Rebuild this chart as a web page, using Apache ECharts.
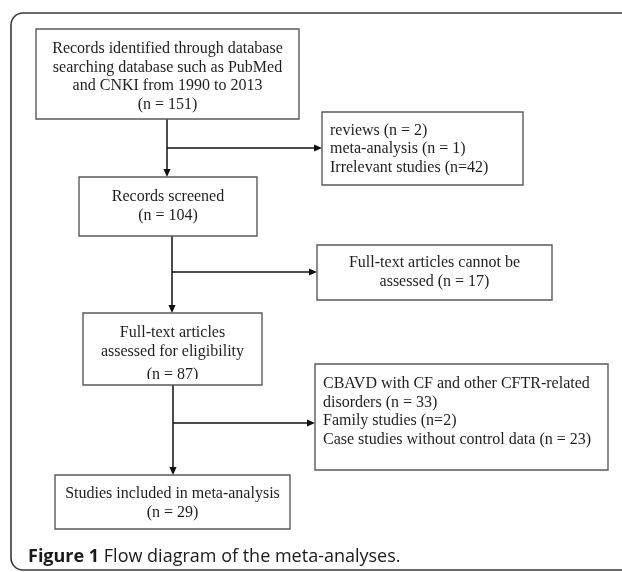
<!DOCTYPE html>
<html><head><meta charset="utf-8">
<script src="https://cdn.jsdelivr.net/npm/echarts@6/dist/echarts.min.js"></script>
<style>html,body{margin:0;padding:0;background:#fff}#c{width:622px;height:572px}</style>
</head><body><div id="c"></div>
<script>
// ---- data ----
const stageLabels = [
  "Records identified through database\nsearching database such as PubMed\nand CNKI from 1990 to 2013",
  "Records screened",
  "Full-text articles\nassessed for eligibility",
  "Studies included in meta-analysis"
];
const stageCounts = [151, 104, 87, 29];
const exclusionLabels = [
  ["reviews", "meta-analysis", "Irrelevant studies"],
  ["Full-text articles cannot be\nassessed"],
  ["CBAVD with CF and other CFTR-related\ndisorders", "Family studies", "Case studies without control data"]
];
const exclusionCounts = [[2, 1, 42], [17], [33, 2, 23]];
const exclusionCompact = [[false, false, true], [false], [false, true, false]];
const captionBold = "Figure 1";
const captionText = "Flow diagram of the meta-analyses.";

// ---- layout (pixels) ----
const LH = 18.5;
const stageBoxes = [
  {x: 36, y: 29, w: 263, h: 90, y0: 49},
  {x: 79, y: 177, w: 178, h: 59, y0: 197},
  {x: 83, y: 313, w: 179, h: 72, y0: 333},
  {x: 55, y: 475, w: 235, h: 54, y0: 494}
];
const exclBoxes = [
  {x: 322, y: 112, w: 201, h: 73, align: 'left', tx: 330, y0: 130.5},
  {x: 317, y: 245, w: 235, h: 55, align: 'center', y0: 263},
  {x: 315, y: 364, w: 293, h: 106, align: 'left', tx: 323, y0: 384}
];
const spines = [
  {x: 167, branchY: 148},
  {x: 172, branchY: 272},
  {x: 173, branchY: 423}
];

const FONT = '16px "Liberation Serif", "Times New Roman", serif';
const TXT = '#1e1e1e';
const BOX = '#5a5a5a';
const ARR = '#111';

function fmt(n, compact) { return compact ? '(n=' + n + ')' : '(n = ' + n + ')'; }

const els = [];
function text(str, x, y, align) {
  els.push({type: 'text', x: x, y: y, z: 5,
    style: {text: str, font: FONT, fill: TXT, align: align, verticalAlign: 'middle',
            textAlign: align, textVerticalAlign: 'middle'}});
}
function rect(b) {
  els.push({type: 'rect', z: 7, shape: {x: b.x, y: b.y, width: b.w, height: b.h},
    style: {fill: 'none', stroke: BOX, lineWidth: 1.4}});
}
function arrow(x1, y1, x2, y2) {
  const L = 8, W = 3.6;
  const dx = x2 - x1, dy = y2 - y1, len = Math.hypot(dx, dy);
  const ux = dx / len, uy = dy / len;
  const bx = x2 - ux * L, by = y2 - uy * L;
  els.push({type: 'line', z: 4, shape: {x1: x1, y1: y1, x2: bx, y2: by},
    style: {stroke: ARR, lineWidth: 1.5}});
  els.push({type: 'polygon', z: 4, shape: {points: [[x2, y2], [bx - uy * W, by + ux * W], [bx + uy * W, by - ux * W]]},
    style: {fill: ARR}});
}

// outer frame
els.push({type: 'rect', z: 1, shape: {x: 11, y: 13, width: 650, height: 557, r: 12},
  style: {fill: 'none', stroke: '#3a3a3a', lineWidth: 1.6}});

// stage boxes
stageLabels.forEach((lab, i) => {
  const b = stageBoxes[i];
  rect(b);
  const lines = lab.split('\n').concat([fmt(stageCounts[i], false)]);
  const cx = b.x + b.w / 2;
  lines.forEach((ln, k) => {
    let yy = b.y0 + k * LH;
    if (i === 2 && k === lines.length - 1) yy += 5;
    text(ln, cx, yy, 'center');
  });
});
// clipped last line of stage 3 (as in the original)
els.push({type: 'rect', z: 6, shape: {x: 120, y: 379, width: 110, height: 6},
  style: {fill: '#fff'}});

// exclusion boxes
exclusionLabels.forEach((labs, i) => {
  const b = exclBoxes[i];
  rect(b);
  const lines = [];
  labs.forEach((lab, k) => {
    const parts = lab.split('\n');
    parts[parts.length - 1] += ' ' + fmt(exclusionCounts[i][k], exclusionCompact[i][k]);
    parts.forEach(p => lines.push(p));
  });
  lines.forEach((ln, k) => {
    if (b.align === 'left') text(ln, b.tx, b.y0 + k * LH, 'left');
    else text(ln, b.x + b.w / 2, b.y0 + k * LH, 'center');
  });
});

// spines and branches
spines.forEach((s, i) => {
  const top = stageBoxes[i].y + stageBoxes[i].h;
  const bot = stageBoxes[i + 1].y;
  arrow(s.x, top, s.x, bot);
  arrow(s.x, s.branchY, exclBoxes[i].x, s.branchY);
});

// caption
els.push({type: 'text', x: 28, y: 557, z: 5,
  style: {text: '{b|' + captionBold + '} ' + captionText,
    font: '18px "Open Sans", "Noto Sans", sans-serif', fill: '#1a1a1a',
    verticalAlign: 'middle', textVerticalAlign: 'middle',
    rich: {b: {font: 'bold 18px "Open Sans", "Noto Sans", sans-serif', fill: '#1a1a1a'}}}});

const chart = echarts.init(document.getElementById('c'), null, {renderer: 'canvas'});
chart.setOption({animation: false, graphic: {elements: els}});
</script>
</body></html>
